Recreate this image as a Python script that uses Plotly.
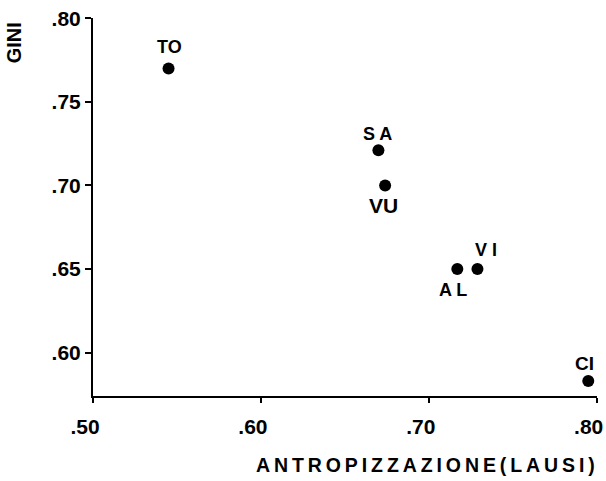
import plotly.graph_objects as go

# data
regioni = ["TO", "SA", "VU", "AL", "VI", "CI"]
etichette = ["TO", "S A", "VU", "A L", "V I", "CI"]
antropizzazione = [0.545, 0.670, 0.674, 0.717, 0.729, 0.795]
gini = [0.770, 0.721, 0.700, 0.650, 0.650, 0.583]

x_ticks = [0.50, 0.60, 0.70, 0.80]
x_ticktext = [".50", ".60", ".70", ".80"]
y_ticks = [0.60, 0.65, 0.70, 0.75, 0.80]
y_ticktext = [".60", ".65", ".70", ".75", ".80"]

# label placement around each dot (pixels), and label size
spost_x = [1, -1, -2, -4, 9, -4]
spost_y = [-21, -16, 20, 21, -19, -17]
dim_etichette = [18, 18, 21, 18, 18, 19]

font_b = dict(family="Liberation Sans, Arial", color="black", weight="bold")

fig = go.Figure()
fig.add_trace(go.Scatter(
    x=antropizzazione, y=gini,
    mode="markers",
    marker=dict(color="black", size=12),
    cliponaxis=False,
    showlegend=False,
))

annotations = []
for xv, yv, t, dx, dy, s in zip(antropizzazione, gini, etichette, spost_x, spost_y, dim_etichette):
    annotations.append(dict(x=xv, y=yv, text=t, showarrow=False,
                            xshift=dx, yshift=-dy,
                            xanchor="center", yanchor="middle",
                            font=dict(size=s, **font_b)))

annotations.append(dict(text="GINI", xref="paper", yref="paper", x=-0.155, y=0.995,
                        textangle=-90, showarrow=False, xanchor="center", yanchor="top",
                        font=dict(size=20, **font_b)))
annotations.append(dict(text="A N T R O P I Z Z A Z I O N E ( L A U S I )".replace(" ", "\u2009"),
                        xref="paper", yref="paper", x=0.659, y=-0.183,
                        showarrow=False, xanchor="center", yanchor="middle",
                        font=dict(size=19.5, **font_b)))

fig.update_layout(
    width=606, height=481,
    margin=dict(l=93, r=9, t=18, b=85, autoexpand=False),
    paper_bgcolor="white",
    plot_bgcolor="white",
    xaxis=dict(
        range=[0.50, 0.8002],
        tickvals=x_ticks, ticktext=x_ticktext,
        ticks="outside", ticklen=5, tickwidth=2, tickcolor="black",
        showline=True, linecolor="black", linewidth=2,
        showgrid=False, zeroline=False, automargin=False,
        tickfont=dict(size=21, **font_b),
        ticklabelstandoff=6, ticklabelshift=-8,
        ticklabeloverflow="allow",
    ),
    yaxis=dict(
        range=[0.574, 0.8002],
        tickvals=y_ticks, ticktext=y_ticktext,
        ticks="outside", ticklen=6, tickwidth=2, tickcolor="black",
        showline=True, linecolor="black", linewidth=2,
        showgrid=False, zeroline=False, automargin=False,
        tickfont=dict(size=21, **font_b),
    ),
    annotations=annotations,
)

# page body has an 8px margin by default: drop it so the figure fills the window
fig.write_html("out.html", config={"displayModeBar": False},
               post_script="document.body.style.margin='0';")
